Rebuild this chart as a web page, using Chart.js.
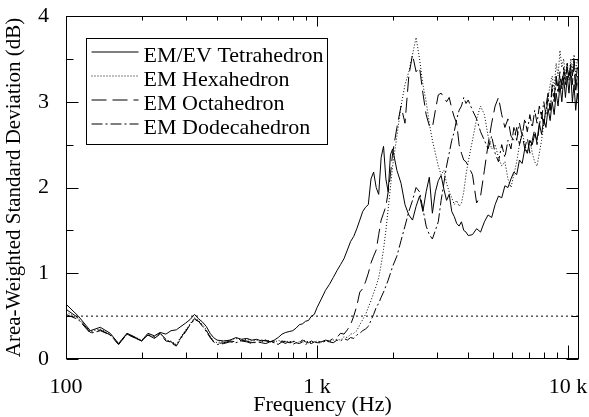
<!DOCTYPE html>
<html lang="en">
<head>
<meta charset="UTF-8">
<title>Area-Weighted Standard Deviation</title>
<script src="https://cdn.jsdelivr.net/npm/chart.js"></script>
<style>
    body { margin: 0; background: #fff; }
    .chart-container { position: relative; width: 589px; height: 417px; }
</style>
</head>
<body>
<div class="chart-container"><canvas id="sdChart"></canvas></div>
<script>
// frequencies (Hz) shared by all four curves
const freq = [100,112,125,137,150,162,175,187,200,212,225,237,250,262,275,287,300,312,325,337,350,362,375,387,400,
    425,450,475,500,525,550,575,600,625,650,675,700,725,750,775,800,825,850,875,900,925,950,975,1000,
    1040,1080,1120,1160,1200,1240,1280,1320,1360,1400,1440,1480,1520,1560,1600,1640,1680,1720,1760,1800,1840,1880,1920,1960,2000,
    2080,2160,2240,2320,2400,2480,2560,2640,2720,2800,2880,2960,3040,3120,3200,3280,3360,3440,3520,3600,3680,3760,3840,3920,4000,
    4160,4320,4480,4640,4800,4960,5120,5280,5440,5600,5760,5920,6080,6240,6400,6560,6720,6880,7040,7200,7360,7520,7680,7840,8000,
    8160,8320,8480,8640,8800,8960,9120,9280,9440,9600,9760,9920,10080,10240,10400,10560,10720,10880,11040];

const tetra = [0.64,0.5,0.33,0.37,0.3,0.18,0.3,0.26,0.21,0.3,0.27,0.31,0.29,0.33,0.34,0.38,0.42,0.46,0.52,0.47,0.43,0.38,0.3,0.25,0.22,
    0.21,0.22,0.25,0.23,0.24,0.22,0.23,0.21,0.22,0.2,0.22,0.25,0.29,0.31,0.32,0.33,0.36,0.4,0.41,0.44,0.45,0.5,0.52,0.6,
    0.7,0.8,0.87,0.95,1.03,1.1,1.17,1.27,1.37,1.43,1.52,1.62,1.72,1.77,1.8,2.1,2.18,2.0,1.92,2.35,2.48,2.1,1.95,2.38,2.45,
    2.2,2.05,1.8,1.68,1.62,1.78,1.9,1.72,1.95,2.12,1.7,1.95,2.08,2.14,1.98,1.85,1.92,1.72,1.66,1.58,1.55,1.6,1.5,1.48,1.44,
    1.45,1.52,1.48,1.6,1.68,1.65,1.8,1.9,1.88,2.02,2.0,2.1,2.18,2.15,2.32,2.28,2.45,2.4,2.55,2.5,2.62,2.55,2.75,2.62,2.8,
    2.7,2.92,2.78,3.0,2.85,3.1,2.95,3.2,3.0,3.28,3.05,3.3,3.1,3.35,3.0,3.2,2.9,3.1,2.95];

const hexa = [0.55,0.47,0.32,0.35,0.29,0.18,0.3,0.26,0.22,0.29,0.25,0.3,0.22,0.21,0.17,0.26,0.34,0.41,0.48,0.45,0.4,0.34,0.27,0.21,0.19,
    0.21,0.22,0.24,0.22,0.23,0.21,0.22,0.2,0.22,0.21,0.19,0.22,0.2,0.21,0.2,0.21,0.19,0.2,0.22,0.21,0.2,0.19,0.2,0.21,
    0.2,0.21,0.2,0.22,0.23,0.22,0.26,0.25,0.29,0.3,0.33,0.4,0.46,0.52,0.6,0.68,0.77,0.85,0.95,1.1,1.28,1.5,1.75,2.0,2.25,
    2.6,2.95,3.2,3.35,3.55,3.75,3.5,3.2,3.0,2.75,2.55,2.4,2.25,2.15,2.2,2.05,1.95,1.88,1.8,1.85,1.78,1.82,1.95,2.15,2.3,
    2.55,2.8,2.95,2.85,2.6,2.45,2.5,2.35,2.25,2.3,2.1,2.0,2.15,2.3,2.5,2.65,2.5,2.4,2.55,2.4,2.3,2.25,2.4,2.55,2.75,
    2.9,3.05,3.2,3.3,3.15,3.45,3.3,3.6,3.4,3.5,3.3,3.45,3.25,3.5,3.35,3.55,3.3,3.5,3.4];

const octa = [0.58,0.48,0.31,0.34,0.28,0.17,0.29,0.25,0.21,0.28,0.24,0.29,0.21,0.2,0.16,0.25,0.33,0.4,0.47,0.44,0.39,0.33,0.26,0.2,0.18,
    0.19,0.21,0.2,0.22,0.21,0.19,0.2,0.22,0.21,0.2,0.21,0.19,0.21,0.2,0.19,0.2,0.21,0.19,0.22,0.2,0.19,0.21,0.19,0.2,
    0.2,0.22,0.21,0.24,0.25,0.3,0.29,0.34,0.4,0.5,0.62,0.78,0.82,0.9,1.0,1.12,1.2,1.27,1.45,1.62,1.7,1.78,1.95,2.15,2.4,
    2.7,2.95,2.75,3.3,3.55,3.35,3.4,3.1,2.85,2.72,2.7,2.9,3.08,3.1,3.05,3.0,3.05,2.92,2.82,2.75,2.5,2.4,2.32,2.3,2.25,
    2.15,1.82,1.9,2.2,2.5,2.75,2.95,3.05,2.85,2.7,2.8,2.6,2.55,2.7,2.5,2.62,2.45,2.58,2.4,2.55,2.68,2.5,2.72,2.88,2.7,
    2.95,3.1,2.9,3.2,3.05,3.3,3.15,3.35,3.2,3.4,3.25,3.45,3.3,3.4,3.2,3.45,3.1,3.3,3.05];

const dodeca = [0.52,0.46,0.3,0.33,0.28,0.17,0.29,0.25,0.21,0.28,0.26,0.3,0.23,0.19,0.15,0.24,0.32,0.4,0.46,0.44,0.38,0.32,0.25,0.2,0.17,
    0.18,0.2,0.19,0.21,0.2,0.18,0.2,0.19,0.18,0.2,0.19,0.17,0.2,0.18,0.2,0.17,0.19,0.18,0.2,0.17,0.19,0.18,0.2,0.19,
    0.19,0.21,0.2,0.19,0.22,0.21,0.24,0.22,0.25,0.24,0.28,0.3,0.33,0.35,0.38,0.45,0.52,0.6,0.65,0.72,0.78,0.85,0.92,1.0,1.08,
    1.2,1.38,1.55,1.72,1.85,2.0,1.95,1.75,1.55,1.45,1.4,1.5,1.6,1.85,2.05,2.25,2.4,2.55,2.65,2.8,2.9,2.95,3.05,2.98,3.02,
    2.9,2.8,2.65,2.55,2.45,2.6,2.4,2.3,2.5,2.35,2.55,2.45,2.7,2.55,2.75,2.6,2.8,2.65,2.85,2.7,2.9,2.75,2.95,2.8,3.0,
    2.85,3.05,2.9,3.15,3.0,3.25,3.1,3.3,3.15,3.35,3.2,3.4,3.25,3.45,3.3,3.5,3.2,3.4,3.3];

const refLevel = 0.5;   // horizontal dotted line
const xLabels = [100, 1000, 10000];
const xMinor = [200,300,400,500,600,700,800,900,2000,3000,4000,5000,6000,7000,8000,9000];
const yTicks = [0,0.5,1,1.5,2,2.5,3,3.5,4];

const serif = "'Liberation Serif', 'Times New Roman', serif";

function pts(vals) {
    return freq.map((f, i) => ({ x: f, y: vals[i] }));
}

// inward ticks, frame and the boxed legend
const framePlugin = {
    id: 'framePlugin',
    afterDatasetsDraw(chart) {
        const { ctx, chartArea: a, scales: { x, y } } = chart;
        const L = Math.round(a.left) + 0.5, R = Math.round(a.right) - 0.5;
        const T = Math.round(a.top) + 0.5, B = Math.round(a.bottom) - 0.5;
        ctx.save();
        ctx.strokeStyle = '#000';
        ctx.lineWidth = 1;
        ctx.setLineDash([]);
        ctx.beginPath();
        xMinor.concat(xLabels).forEach(v => {
            const major = xLabels.includes(v);
            const px = Math.round(x.getPixelForValue(v)) + 0.5;
            ctx.moveTo(px, B); ctx.lineTo(px, B - (major ? 13 : 6));
            ctx.moveTo(px, T); ctx.lineTo(px, T + (major ? 10 : 4));
        });
        yTicks.forEach(v => {
            const major = Number.isInteger(v);
            const py = Math.round(y.getPixelForValue(v)) + 0.5;
            ctx.moveTo(L, py); ctx.lineTo(L + (major ? 12 : 7), py);
            ctx.moveTo(R, py); ctx.lineTo(R - (major ? 12 : 7), py);
        });
        ctx.stroke();
        ctx.strokeRect(L, T, R - L, B - T);

        // legend
        const bx = L + 20, by = T + 22, bw = 241, bh = 106;
        ctx.fillStyle = '#fff';
        ctx.fillRect(bx, by, bw, bh);
        ctx.strokeRect(bx, by, bw, bh);
        ctx.font = '22px ' + serif;
        ctx.fillStyle = '#000';
        ctx.textBaseline = 'alphabetic';
        chart.data.datasets.filter(d => d.label).forEach((d, i) => {
            const base = by + 23 + i * 24;
            ctx.save();
            ctx.setLineDash(d.borderDash || []);
            ctx.beginPath();
            ctx.moveTo(bx + 5, base - 9.5);
            ctx.lineTo(bx + 52, base - 9.5);
            ctx.stroke();
            ctx.restore();
            ctx.fillText(d.label, bx + 57, base);
        });
        ctx.restore();
    }
};

const ctx = document.getElementById('sdChart').getContext('2d');
new Chart(ctx, {
    type: 'line',
    data: {
        datasets: [
            { label: 'EM/EV Tetrahedron', data: pts(tetra), borderDash: [] },
            { label: 'EM Hexahedron', data: pts(hexa), borderDash: [1, 2] },
            { label: 'EM Octahedron', data: pts(octa), borderDash: [15, 6] },
            { label: 'EM Dodecahedron', data: pts(dodeca), borderDash: [11, 3, 2, 3] },
            { label: '', data: [{ x: 100, y: refLevel }, { x: 11050, y: refLevel }], borderDash: [2, 3] }
        ].map(d => Object.assign(d, { borderColor: '#000', borderWidth: 1, pointRadius: 0, tension: 0, fill: false }))
    },
    options: {
        responsive: true,
        maintainAspectRatio: false,
        animation: false,
        layout: { padding: { top: 16, right: 10, left: 0, bottom: 0 } },
        plugins: { legend: { display: false }, tooltip: { enabled: false } },
        scales: {
            x: {
                type: 'logarithmic',
                min: 100,
                max: 11050,
                afterBuildTicks: s => { s.ticks = xLabels.map(v => ({ value: v })); },
                afterFit: s => { s.height = 58; s.paddingLeft = 0; s.paddingRight = 0; },
                grid: { display: false },
                border: { display: false },
                ticks: {
                    color: '#000',
                    font: { family: serif, size: 22 },
                    padding: 7,
                    maxRotation: 0,
                    autoSkip: false,
                    callback: v => v >= 1000 ? (v / 1000) + ' k' : String(v)
                },
                title: {
                    display: true,
                    text: 'Frequency (Hz)',
                    color: '#000',
                    font: { family: serif, size: 22, lineHeight: 1.1 },
                    padding: 0
                }
            },
            y: {
                min: 0,
                max: 4,
                afterFit: s => { s.width = 66; s.paddingTop = 0; s.paddingBottom = 0; },
                grid: { display: false },
                border: { display: false },
                ticks: {
                    color: '#000',
                    font: { family: serif, size: 22 },
                    stepSize: 1,
                    padding: 9
                },
                title: {
                    display: true,
                    text: 'Area-Weighted Standard Deviation (dB)',
                    color: '#000',
                    font: { family: serif, size: 21, lineHeight: 1.2 },
                    padding: { top: 2, bottom: 0 }
                }
            }
        }
    },
    plugins: [framePlugin]
});
</script>
</body>
</html>
